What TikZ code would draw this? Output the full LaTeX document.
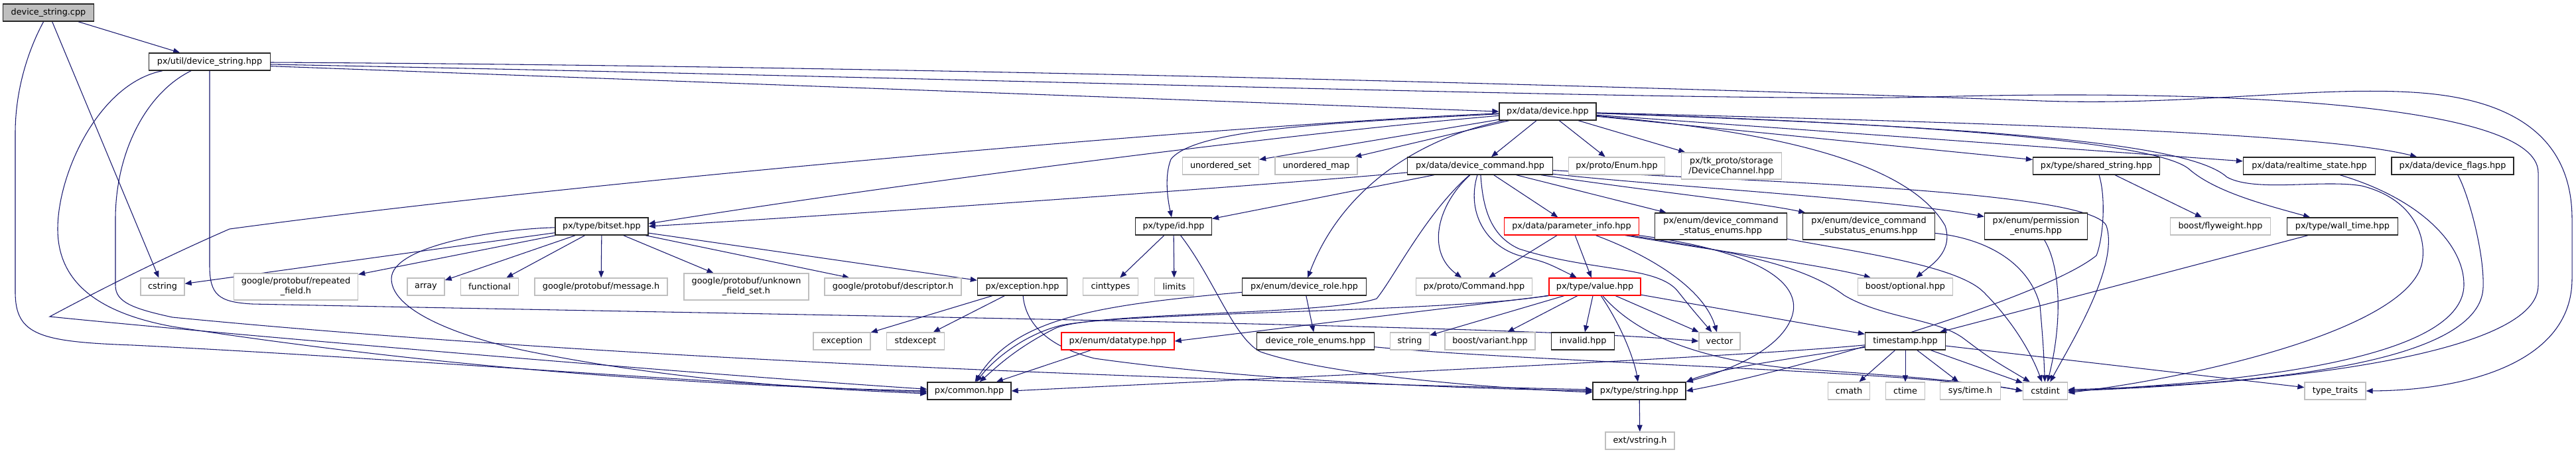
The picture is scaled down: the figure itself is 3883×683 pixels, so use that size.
\documentclass[tikz,border=0pt]{standalone}
\usepackage{fontspec}
\setmainfont{DejaVu Sans}
\usetikzlibrary{arrows.meta}
\definecolor{DoxEdge}{HTML}{191970}
\definecolor{DoxGray}{HTML}{BFBFBF}
\definecolor{DoxRed}{HTML}{FF0000}
\pgfdeclarelayer{edges}
\pgfsetlayers{edges,main}

\begin{document}
\begin{tikzpicture}[x=0.75pt, y=-0.75pt, >={Triangle[length=7.5pt, width=6pt]},
    incfile/.style={draw=black!85, line width=1pt, fill=white, inner sep=0pt,
        minimum height=19.5pt, align=center, font=\fontsize{9.6}{11.2}\selectfont},
    sysfile/.style={incfile, draw=DoxGray},
    cutfile/.style={incfile, draw=DoxRed},
    rootfile/.style={incfile, fill=DoxGray},
    twoline/.style={minimum height=30pt},
    wd/.style={minimum width=#1*0.75pt},
    dep/.style={->, draw=DoxEdge, line width=0.8pt}]

    \useasboundingbox (0,0) rectangle (3883,683);

    % ========== Row 1-3: source, util header, device ==========
    \node[rootfile, wd=137] (cpp) at (73,19) {device\_string.cpp};
    \node[incfile, wd=183] (dsh) at (316,93) {px/util/device\_string.hpp};
    \node[incfile, wd=146] (dev) at (2333,168) {px/data/device.hpp};

    % ========== Row 4 ==========
    \node[sysfile, wd=115] (uset) at (1840,250) {unordered\_set};
    \node[sysfile, wd=124] (umap) at (1984,250) {unordered\_map};
    \node[incfile, wd=219] (dcmd) at (2231,250) {px/data/device\_command.hpp};
    \node[sysfile, wd=145] (penum) at (2437,250) {px/proto/Enum.hpp};
    \node[sysfile, twoline, wd=151] (tkp) at (2610,250) {px/tk\_proto/storage\\/DeviceChannel.hpp};
    \node[incfile, wd=191] (sstr) at (3160,250) {px/type/shared\_string.hpp};
    \node[incfile, wd=199] (rts) at (3481,250) {px/data/realtime\_state.hpp};
    \node[incfile, wd=184] (dflg) at (3697,250) {px/data/device\_flags.hpp};

    % ========== Row 5 ==========
    \node[incfile, wd=140] (bits) at (907,341) {px/type/bitset.hpp};
    \node[incfile, wd=115] (tid) at (1769,341) {px/type/id.hpp};
    \node[cutfile, wd=203] (pinfo) at (2369,341) {px/data/parameter\_info.hpp};
    \node[incfile, twoline, wd=199] (stat) at (2594,341) {px/enum/device\_command\\\_status\_enums.hpp};
    \node[incfile, twoline, wd=199] (subst) at (2817,341) {px/enum/device\_command\\\_substatus\_enums.hpp};
    \node[incfile, twoline, wd=155] (perm) at (3069,341) {px/enum/permission\\\_enums.hpp};
    \node[sysfile, wd=151] (fly) at (3347,341) {boost/flyweight.hpp};
    \node[incfile, wd=167] (wall) at (3531,341) {px/type/wall\_time.hpp};

    % ========== Row 6 ==========
    \node[sysfile, wd=66] (cstr) at (245,432) {cstring};
    \node[sysfile, twoline, wd=187] (rep) at (446,432) {google/protobuf/repeated\\\_field.h};
    \node[sysfile, wd=56] (arr) at (642,432) {array};
    \node[sysfile, wd=87] (func) at (738,432) {functional};
    \node[sysfile, wd=200] (msg) at (906,432) {google/protobuf/message.h};
    \node[sysfile, twoline, wd=188] (unk) at (1125,432) {google/protobuf/unknown\\\_field\_set.h};
    \node[sysfile, wd=206] (desc) at (1346,432) {google/protobuf/descriptor.h};
    \node[incfile, wd=135] (pexc) at (1541,432) {px/exception.hpp};
    \node[sysfile, wd=83] (cint) at (1674,432) {cinttypes};
    \node[sysfile, wd=59] (lim) at (1770,432) {limits};
    \node[incfile, wd=187] (role) at (1966,432) {px/enum/device\_role.hpp};
    \node[sysfile, wd=175] (pcmd) at (2222,432) {px/proto/Command.hpp};
    \node[cutfile, wd=138] (val) at (2404,432) {px/type/value.hpp};
    \node[sysfile, wd=143] (bopt) at (2872,432) {boost/optional.hpp};

    % ========== Row 7 ==========
    \node[sysfile, wd=86] (exc) at (1269,514) {exception};
    \node[sysfile, wd=87] (stdx) at (1380,514) {stdexcept};
    \node[cutfile, wd=170] (dtyp) at (1685,514) {px/enum/datatype.hpp};
    \node[incfile, wd=177] (renum) at (1983,514) {device\_role\_enums.hpp};
    \node[sysfile, wd=59] (str) at (2125,514) {string};
    \node[sysfile, wd=136] (bvar) at (2246,514) {boost/variant.hpp};
    \node[incfile, wd=95] (inv) at (2386,514) {invalid.hpp};
    \node[sysfile, wd=62] (vec) at (2592,514) {vector};
    \node[incfile, wd=121] (tstamp) at (2872,514) {timestamp.hpp};

    % ========== Row 8-9 ==========
    \node[incfile, wd=126] (com) at (1461,589) {px/common.hpp};
    \node[incfile, wd=140] (tstr) at (2471,589) {px/type/string.hpp};
    \node[sysfile, wd=63] (cmath) at (2787,589) {cmath};
    \node[sysfile, wd=59] (ctime) at (2872,589) {ctime};
    \node[sysfile, wd=91] (systm) at (2970,589) {sys/time.h};
    \node[sysfile, wd=67] (cstd) at (3083,589) {cstdint};
    \node[sysfile, wd=92] (ttr) at (3520,589) {type\_traits};
    \node[sysfile, wd=104] (vstr) at (2472,664) {ext/vstring.h};

    \begin{pgfonlayer}{edges}
    \fill[white] (0,0) rectangle (3883,683);

    % ========== device_string.cpp ==========
    \draw[dep] (cpp) -- (dsh);
    \draw[dep] (cpp) -- (cstr);
    \draw[dep] (cpp) .. controls (40,80) and (23,140) .. (23,200) -- (23,440)
        .. controls (23,505) and (60,515) .. (200,520)
        .. controls (600,540) and (1100,580) .. ([yshift=-1.5pt]com.west);

    % ========== px/util/device_string.hpp ==========
    \draw[dep] ([yshift=-5pt]dsh.east) -- (dev.west);
    \draw[dep] ([yshift=-0.75pt]dsh.east) .. controls (1500,100) and (2700,138) .. (3077,152)
        .. controls (3300,160) and (3500,128) .. (3650,140)
        .. controls (3840,155) and (3877,250) .. (3877,330) -- (3877,420)
        .. controls (3877,545) and (3720,588) .. (ttr.east);
    \draw[dep] ([yshift=-3pt]dsh.east) .. controls (1500,118) and (2600,155) .. (2911,146)
        .. controls (3300,135) and (3826,150) .. (3826,260) -- (3826,430)
        .. controls (3826,525) and (3500,575) .. (cstd.east);
    \draw[dep] (dsh.south) -- (316,400) .. controls (316,445) and (330,455) .. (380,458)
        .. controls (1200,475) and (2300,490) .. (vec.west);
    \draw[dep] (dsh) .. controls (150,125) and (87,260) .. (87,345)
        .. controls (87,420) and (140,470) .. (260,492)
        .. controls (700,560) and (1100,582) .. (com.west);
    \draw[dep] (dsh) .. controls (220,140) and (174,230) .. (174,330) -- (174,430)
        .. controls (174,455) and (200,465) .. (260,478)
        .. controls (1000,550) and (2000,578) .. ([yshift=1.5pt]tstr.west);

    % ========== px/data/device.hpp ==========
    \draw[dep] (dev) .. controls (1900,205) and (1300,285) .. ([yshift=3pt]bits.east);
    \draw[dep] (dev) -- (uset);
    \draw[dep] (dev) -- (umap);
    \draw[dep] (dev) -- (dcmd);
    \draw[dep] (dev) -- (penum);
    \draw[dep] (dev) -- (tkp);
    \draw[dep] (dev) -- (sstr);
    \draw[dep] (dev) -- (rts);
    \draw[dep] (dev) .. controls (3000,185) and (3500,200) .. (dflg);
    \draw[dep] (dev) .. controls (2000,185) and (1800,195) .. (1765,240)
        .. controls (1755,265) and (1760,300) .. (tid);
    \draw[dep] (dev) .. controls (2130,210) and (2020,290) .. (role);
    \draw[dep] (dev) .. controls (2700,200) and (2880,250) .. (2932,340)
        .. controls (2945,380) and (2910,400) .. (bopt);
    \draw[dep] (dev) .. controls (3000,190) and (3260,220) .. (3300,255)
        .. controls (3340,290) and (3420,310) .. (wall);
    \draw[dep] (dev) .. controls (3000,192) and (3300,215) .. (3357,267)
        .. controls (3400,290) and (3500,270) .. (3560,280)
        .. controls (3640,300) and (3660,360) .. (3650,400)
        .. controls (3620,500) and (3300,570) .. ([yshift=-2pt]cstd.east);
    \draw[dep] (dev) .. controls (1900,185) and (900,270) .. (346,345)
        .. controls (300,365) and (200,410) .. (75,477)
        .. controls (300,500) and (1000,560) .. ([yshift=2pt]com.west);

    % ========== px/data/device_command.hpp ==========
    \draw[dep] (dcmd) .. controls (1900,280) and (1300,322) .. (bits.east);
    \draw[dep] (dcmd) -- (tid);
    \draw[dep] (dcmd) -- (pinfo);
    \draw[dep] (dcmd) -- (stat);
    \draw[dep] (dcmd) .. controls (2500,290) and (2650,305) .. (subst);
    \draw[dep] (dcmd) .. controls (2500,280) and (2850,300) .. (perm);
    \draw[dep] (dcmd) .. controls (2600,272) and (3150,285) .. (3175,340)
        .. controls (3195,400) and (3120,520) .. (cstd);
    \draw[dep] (dcmd) .. controls (2165,310) and (2150,380) .. (pcmd);
    \draw[dep] (dcmd) .. controls (2210,320) and (2240,370) .. (2290,385)
        .. controls (2330,395) .. (val);
    \draw[dep] (dcmd) .. controls (2235,310) and (2245,355) .. (2290,375)
        .. controls (2400,410) and (2500,400) .. (2530,440)
        .. controls (2550,465) .. (vec);
    \draw[dep] (dcmd) .. controls (2150,320) and (2100,420) .. (2075,450)
        .. controls (2000,475) and (1640,470) .. (1590,495)
        .. controls (1530,525) and (1500,555) .. (com);

    % ========== px/data/parameter_info.hpp ==========
    \draw[dep] (pinfo) -- (pcmd);
    \draw[dep] (pinfo) -- (val);
    \draw[dep] (pinfo) .. controls (2600,380) and (2750,400) .. (bopt);
    \draw[dep] (pinfo) .. controls (2500,390) and (2570,440) .. (vec);
    \draw[dep] (pinfo) .. controls (2620,380) and (2720,400) .. (2780,445)
        .. controls (2840,480) and (2920,480) .. (2960,510)
        .. controls (3000,540) .. (cstd);
    \draw[dep] (pinfo) .. controls (2660,380) and (2720,430) .. (2700,480)
        .. controls (2680,530) and (2600,560) .. (tstr.north east);

    % ========== px/type/value.hpp ==========
    \draw[dep] (val.south west) -- (dtyp.east);
    \draw[dep] (val) -- (str);
    \draw[dep] (val) -- (bvar);
    \draw[dep] (val) -- (inv);
    \draw[dep] (val) -- (vec);
    \draw[dep] (val) -- (tstamp);
    \draw[dep] (val) .. controls (2450,500) and (2465,550) .. (tstr);
    \draw[dep] (val) .. controls (2480,520) and (2600,545) .. (2700,555)
        .. controls (2850,565) and (2980,575) .. (cstd.west);
    \draw[dep] (val) .. controls (2200,470) and (1700,470) .. (1600,490)
        .. controls (1540,505) and (1495,545) .. (com);

    % ========== px/type/bitset.hpp ==========
    \draw[dep] (bits) -- (cstr);
    \draw[dep] (bits) -- (rep);
    \draw[dep] (bits) -- (arr);
    \draw[dep] (bits) -- (func);
    \draw[dep] (bits) -- (msg);
    \draw[dep] (bits) -- (unk);
    \draw[dep] (bits) -- (desc);
    \draw[dep] (bits) -- (pexc);
    \draw[dep] (bits) .. controls (750,345) and (590,370) .. (590,420)
        .. controls (590,470) and (700,510) .. (800,530)
        .. controls (1000,570) and (1200,585) .. ([yshift=-3pt]com.west);

    % ========== smaller headers ==========
    \draw[dep] (pexc) -- (exc);
    \draw[dep] (pexc) -- (stdx);
    \draw[dep] (pexc) .. controls (1545,480) and (1570,520) .. (1650,540)
        .. controls (1900,575) and (2200,585) .. (tstr.west);
    \draw[dep] (tid) -- (cint);
    \draw[dep] (tid) -- (lim);
    \draw[dep] (tid) .. controls (1830,420) and (1860,510) .. (1900,530)
        .. controls (2000,565) and (2250,585) .. ([yshift=-1.5pt]tstr.west);
    \draw[dep] (role) -- (renum);
    \draw[dep] (role) .. controls (1650,460) and (1530,480) .. (com);
    \draw[dep] (renum) .. controls (2300,545) and (2900,560) .. (cstd.west);
    \draw[dep] (dtyp) -- (com);
    \draw[dep] (stat) .. controls (2800,380) and (2950,400) .. (2990,440)
        .. controls (3040,490) and (3065,540) .. (cstd);
    \draw[dep] (subst) .. controls (3000,360) and (3060,400) .. (3075,460)
        .. controls (3080,520) .. (cstd);
    \draw[dep] (perm) .. controls (3105,400) and (3110,480) .. (cstd);
    \draw[dep] (sstr) -- (fly);
    \draw[dep] (sstr) .. controls (3175,300) and (3170,360) .. (3160,385)
        .. controls (3080,450) and (2700,560) .. (tstr.east);
    \draw[dep] (rts) .. controls (3650,300) and (3715,370) .. (3714,430)
        .. controls (3712,520) and (3500,570) .. (cstd.east);
    \draw[dep] (dflg) .. controls (3720,290) and (3745,380) .. (3743,433)
        .. controls (3740,520) and (3550,575) .. ([yshift=1.5pt]cstd.east);
    \draw[dep] (wall) -- (tstamp);

    % ========== timestamp.hpp ==========
    \draw[dep] (tstamp) -- (cmath);
    \draw[dep] (tstamp) -- (ctime);
    \draw[dep] (tstamp) -- (systm);
    \draw[dep] (tstamp) -- (cstd);
    \draw[dep] (tstamp) -- (ttr);
    \draw[dep] (tstamp) .. controls (2600,540) and (1800,575) .. (com.east);
    \draw[dep] (tstamp) .. controls (2700,540) and (2590,555) .. (tstr.north east);

    % ========== px/type/string.hpp ==========
    \draw[dep] (tstr) -- (vstr);
    \end{pgfonlayer}

\end{tikzpicture}
\end{document}
